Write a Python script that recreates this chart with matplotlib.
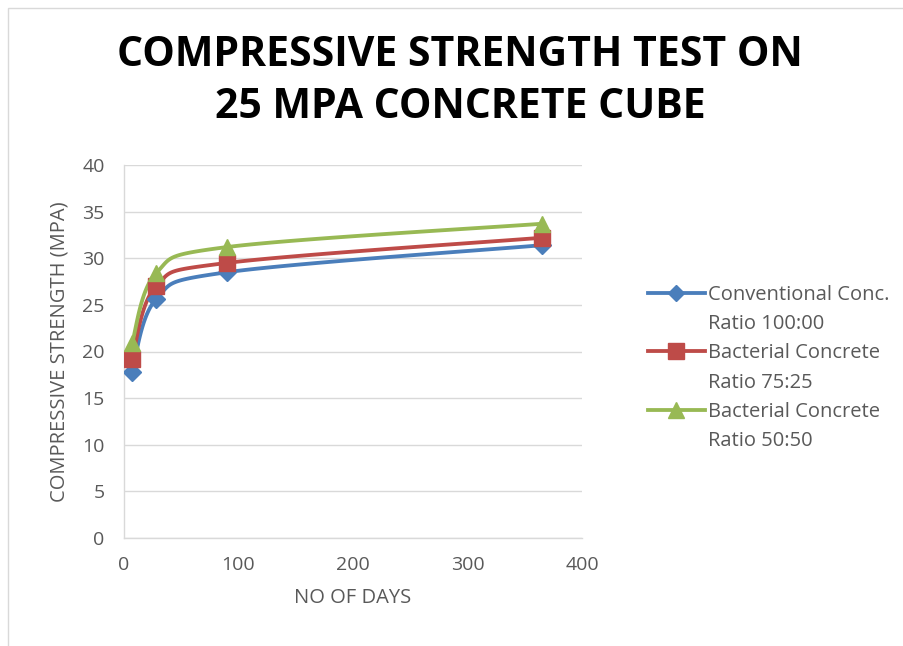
import numpy as np
import matplotlib
matplotlib.use("Agg")
import matplotlib.pyplot as plt
from matplotlib.patches import Rectangle
from matplotlib.lines import Line2D

days = [7, 28, 90, 365]
conventional = [17.8, 25.6, 28.5, 31.4]
bact_75 = [19.2, 27.0, 29.5, 32.2]
bact_50 = [20.9, 28.4, 31.2, 33.7]
labels = ["Conventional Conc.\nRatio 100:00",
          "Bacterial Concrete\nRatio 75:25",
          "Bacterial Concrete\nRatio 50:50"]
colors = ["#4A7EBB", "#BE4B48", "#98B954"]
markers = ["D", "s", "^"]
msizes = [9, 12, 12]


def smooth(x, y, n=40):
    # catmull-rom style bezier, like excel's smoothed line
    x = np.asarray(x, float)
    y = np.asarray(y, float)
    px = np.concatenate([[x[0]], x, [x[-1]]])
    py = np.concatenate([[y[0]], y, [y[-1]]])
    xs, ys = [], []
    t = np.linspace(0, 1, n)
    for i in range(1, len(px) - 2):
        p0 = np.array([px[i], py[i]])
        p3 = np.array([px[i + 1], py[i + 1]])
        p1 = p0 + (np.array([px[i + 1], py[i + 1]]) - np.array([px[i - 1], py[i - 1]])) / 6
        p2 = p3 - (np.array([px[i + 2], py[i + 2]]) - np.array([px[i], py[i]])) / 6
        b = ((1 - t) ** 3)[:, None] * p0 + (3 * (1 - t) ** 2 * t)[:, None] * p1 \
            + (3 * (1 - t) * t ** 2)[:, None] * p2 + (t ** 3)[:, None] * p3
        xs.extend(b[:, 0])
        ys.extend(b[:, 1])
    return xs, ys


fig = plt.figure(figsize=(9.04, 6.46), dpi=100)
fig.patches.append(Rectangle((8 / 904, -0.1), 1.2, 1 - 8 / 646 + 0.1,
                             transform=fig.transFigure, fill=False,
                             edgecolor="#D9D9D9", linewidth=1))
ax = fig.add_axes([124 / 904, 1 - 538 / 646, 458 / 904, 373 / 646])

series = [conventional, bact_75, bact_50]
handles, leg_labels = [], []
for vals, c, m, ms, lab in zip(series, colors, markers, msizes, labels):
    sx, sy = smooth(days, vals)
    ax.plot(sx, sy, color=c, linewidth=2.75, solid_capstyle="round", zorder=2)
    ax.plot(days, vals, linestyle="none", marker=m, markersize=ms, color=c, zorder=3)
    first, second = lab.split("\n")
    handles.append(Line2D([], [], color=c, linewidth=2.75, marker=m, markersize=ms - 1))
    leg_labels.append(first)
    handles.append(Line2D([], [], linestyle="none"))
    leg_labels.append(second)

ax.set_xlim(0, 400)
ax.set_ylim(0, 40)
ax.set_xticks(range(0, 401, 100))
ax.set_yticks(range(0, 41, 5))
ax.grid(axis="y", color="#D9D9D9", linewidth=1)
ax.set_axisbelow(True)
for s in ["top", "right"]:
    ax.spines[s].set_visible(False)
for s in ["left", "bottom"]:
    ax.spines[s].set_color("#D9D9D9")
    ax.spines[s].set_linewidth(1)
ax.tick_params(length=0, labelsize=14, colors="#595959")
ax.tick_params(axis="y", pad=14)
ax.tick_params(axis="x", pad=13)
for t in ax.get_xticklabels() + ax.get_yticklabels():
    t.set_fontfamily("Open Sans")

ax.set_xlabel("NO OF DAYS", fontsize=14.5, color="#595959", family="Open Sans", labelpad=10)
ax.set_ylabel("COMPRESSIVE STRENGTH (MPA)", fontsize=14.5, color="#595959",
              family="Open Sans", labelpad=9)

fig.text(460 / 904, 1 - 55 / 646, "COMPRESSIVE STRENGTH TEST ON",
         ha="center", va="center", fontsize=29.5, fontweight="bold", family="Open Sans")
fig.text(460 / 904, 1 - 107 / 646, "25 MPA CONCRETE CUBE",
         ha="center", va="center", fontsize=29.5, fontweight="bold", family="Open Sans")

leg = ax.legend(handles, leg_labels, loc="center left",
                bbox_to_anchor=(630 / 904, 1 - 368 / 646),
                bbox_transform=fig.transFigure, frameon=False,
                prop={"family": "Open Sans", "size": 14.5}, handlelength=2.8,
                handletextpad=0.15, labelspacing=0.45, labelcolor="#595959")

fig.savefig("out.png", dpi=100)
